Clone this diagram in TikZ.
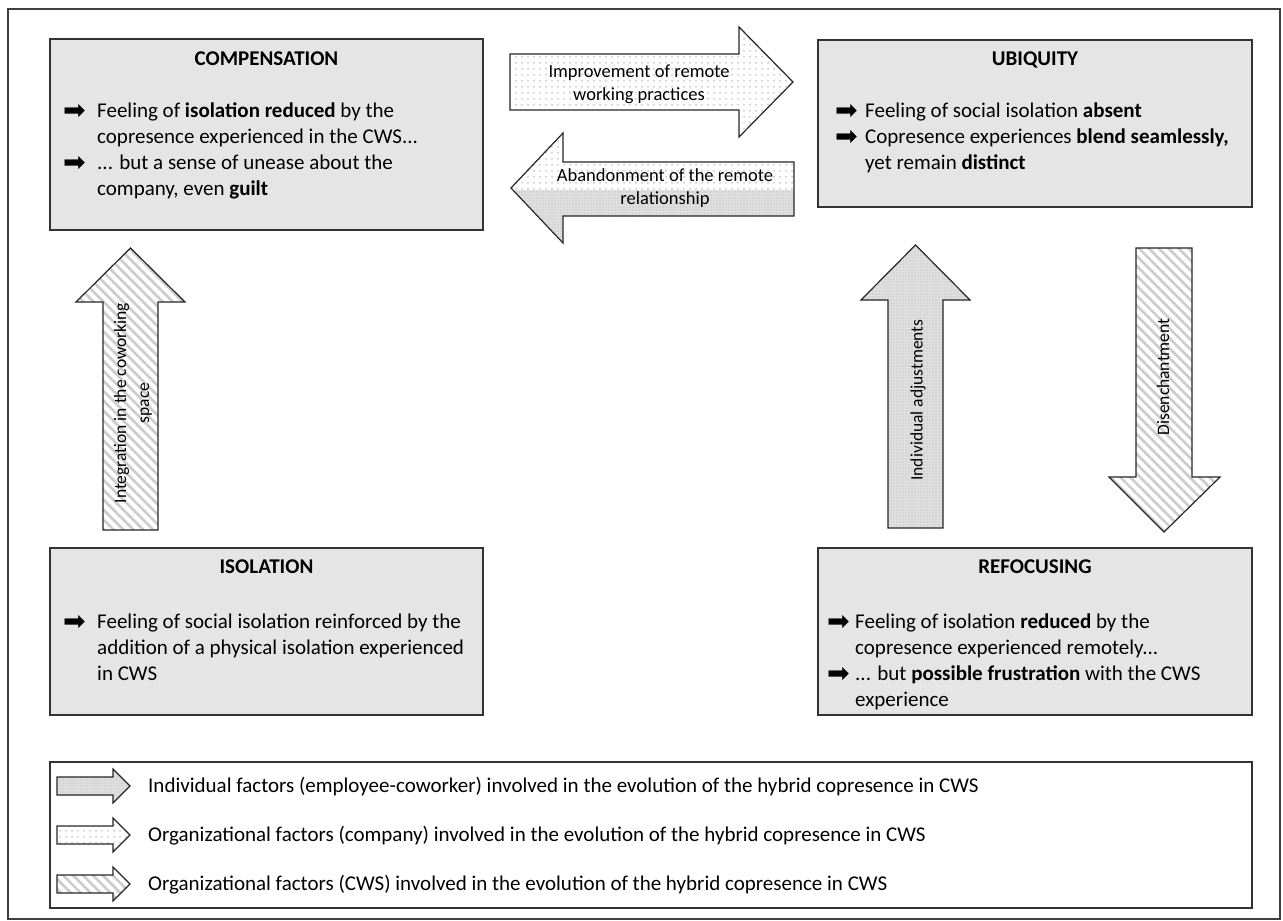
\documentclass[tikz,border=0pt]{standalone}
\usepackage{fontspec}
\setmainfont{Carlito}
\newfontfamily\dejavu{DejaVu Sans}
\usetikzlibrary{patterns.meta}
\newcommand{\arr}{\smash{\raisebox{-2.5pt}{\fontsize{27}{27}\dejavu\char"27A1}}}
\newcommand{\bul}[2][34pt]{\par\noindent\hangindent=#1\hangafter=1\makebox[#1][l]{\arr}#2\par}
\newcommand{\txt}[1]{\parbox[t]{420pt}{\fontsize{21}{26}\selectfont #1}}
\tikzset{
  box/.style={draw=black!80, line width=1.3pt, fill=gray!20},
  ttl/.style={anchor=base, font=\bfseries\fontsize{21}{25}\selectfont},
  body/.style={anchor=base west, inner sep=0pt},
  arrline/.style={draw=black!85, line width=1.2pt, line join=miter},
  indiv/.style={preaction={fill=gray!24}, pattern={Dots[distance=3pt, radius=0.55pt]}, pattern color=gray!60},
  orgco/.style={preaction={fill=white}, pattern={Dots[distance=6pt, radius=0.75pt]}, pattern color=gray!75},
  orgcws/.style={preaction={fill=white}, pattern={Lines[angle=-45, distance=7pt, line width=2.6pt]}, pattern color=gray!40},
  atext/.style={font=\fontsize{18.5}{23.5}\selectfont, align=center},
  vtext/.style={font=\fontsize{17.5}{23}\selectfont, align=center, rotate=90},
  legtext/.style={anchor=base west, font=\fontsize{21}{25}\selectfont, inner sep=0pt}
}
\begin{document}
\begin{tikzpicture}[x=1pt, y=-1pt]
\useasboundingbox (0,0) rectangle (1283,921);
% outer frame
\draw[black!75, line width=1.2pt] (8,9) rectangle (1280,919);

% boxes
\node[box, minimum width=433pt, minimum height=191pt, inner sep=0pt] (comp) at (266.5,134.5) {};
\node[box, minimum width=434pt, minimum height=167pt, inner sep=0pt] (ubiq) at (1035,123.5) {};
\node[box, minimum width=433pt, minimum height=167pt, inner sep=0pt] (isol) at (266.5,631.5) {};
\node[box, minimum width=434pt, minimum height=167pt, inner sep=0pt] (refoc) at (1035,631.5) {};

% titles
\node[ttl] (tcomp) at (266.5,65) {COMPENSATION};
\node[ttl] (tubiq) at (1035,65) {UBIQUITY};
\node[ttl] (tisol) at (266.5,573) {ISOLATION};
\node[ttl] (trefoc) at (1035,573) {REFOCUSING};

% bodies
\node[body] (bcomp) at (63,117) {\txt{\bul{Feeling of \textbf{isolation reduced} by the\\copresence experienced in the CWS...}\bul{... but a sense of unease about the\\company, even \textbf{guilt}}}};
\node[body] (bubiq) at (835,117) {\txt{\bul[30pt]{Feeling of social isolation \textbf{absent}}\bul[30pt]{Copresence experiences \textbf{blend seamlessly,}\\yet remain \textbf{distinct}}}};
\node[body] (bisol) at (63,628) {\txt{\bul{Feeling of social isolation reinforced by the\\addition of a physical isolation experienced\\in CWS}}};
\node[body] (brefoc) at (827,628) {\txt{\bul[28pt]{Feeling of isolation \textbf{reduced} by the\\copresence experienced remotely...}\bul[28pt]{... but \textbf{possible frustration} with the CWS\\experience}}};

% top right arrow (organizational, company)
\path[orgco] (510,54) -- (739,54) -- (739,27) -- (793,82) -- (739,137) -- (739,110) -- (510,110) -- cycle;
\draw[arrline] (510,54) -- (739,54) -- (739,27) -- (793,82) -- (739,137) -- (739,110) -- (510,110) -- cycle;
\node[atext] (timpr) at (639,84) {Improvement of remote\\working practices};

% left arrow (mixed)
\path[orgco] (794,162) -- (563,162) -- (563,133) -- (511,188) -- (563,243) -- (563,216) -- (794,216) -- cycle;
\begin{scope}
\clip (500,190) rectangle (800,250);
\path[indiv] (794,162) -- (563,162) -- (563,133) -- (511,188) -- (563,243) -- (563,216) -- (794,216) -- cycle;
\end{scope}
\draw[arrline] (794,162) -- (563,162) -- (563,133) -- (511,188) -- (563,243) -- (563,216) -- (794,216) -- cycle;
\node[atext] (taban) at (665,188) {Abandonment of the remote\\relationship};

% integration (CWS)
\path[orgcws] (103,530) -- (103,302) -- (76,302) -- (130.5,248) -- (185,302) -- (158,302) -- (158,530) -- cycle;
\draw[arrline] (103,530) -- (103,302) -- (76,302) -- (130.5,248) -- (185,302) -- (158,302) -- (158,530) -- cycle;
\node[vtext] (tint) at (133,403) {Integration in the coworking\\space};

% individual adjustments
\path[indiv] (888,528) -- (888,300) -- (861,300) -- (915.5,245) -- (970,300) -- (943,300) -- (943,528) -- cycle;
\draw[arrline] (888,528) -- (888,300) -- (861,300) -- (915.5,245) -- (970,300) -- (943,300) -- (943,528) -- cycle;
\node[vtext] (tind) at (918,400) {Individual adjustments};

% disenchantment
\path[orgcws] (1136,248) -- (1192,248) -- (1192,477) -- (1220,477) -- (1164,532) -- (1109,477) -- (1136,477) -- cycle;
\draw[arrline] (1136,248) -- (1192,248) -- (1192,477) -- (1220,477) -- (1164,532) -- (1109,477) -- (1136,477) -- cycle;
\node[vtext] (tdis) at (1163,377) {Disenchantment};

% legend
\node[draw=black!80, line width=1.2pt, minimum width=1202pt, minimum height=146pt, inner sep=0pt] (leg) at (651,835) {};
\path[indiv] (57,777) -- (113,777) -- (113,769) -- (130,786) -- (113,803) -- (113,795) -- (57,795) -- cycle;
\draw[arrline] (57,777) -- (113,777) -- (113,769) -- (130,786) -- (113,803) -- (113,795) -- (57,795) -- cycle;
\path[orgco] (57,826) -- (113,826) -- (113,818) -- (130,835) -- (113,852) -- (113,844) -- (57,844) -- cycle;
\draw[arrline] (57,826) -- (113,826) -- (113,818) -- (130,835) -- (113,852) -- (113,844) -- (57,844) -- cycle;
\path[orgcws] (57,875) -- (113,875) -- (113,867) -- (130,884) -- (113,901) -- (113,893) -- (57,893) -- cycle;
\draw[arrline] (57,875) -- (113,875) -- (113,867) -- (130,884) -- (113,901) -- (113,893) -- (57,893) -- cycle;
\node[legtext] (l1) at (148,792) {Individual factors (employee-coworker) involved in the evolution of the hybrid copresence in CWS};
\node[legtext] (l2) at (148,841) {Organizational factors (company) involved in the evolution of the hybrid copresence in CWS};
\node[legtext] (l3) at (148,890) {Organizational factors (CWS) involved in the evolution of the hybrid copresence in CWS};
\end{tikzpicture}
\end{document}
